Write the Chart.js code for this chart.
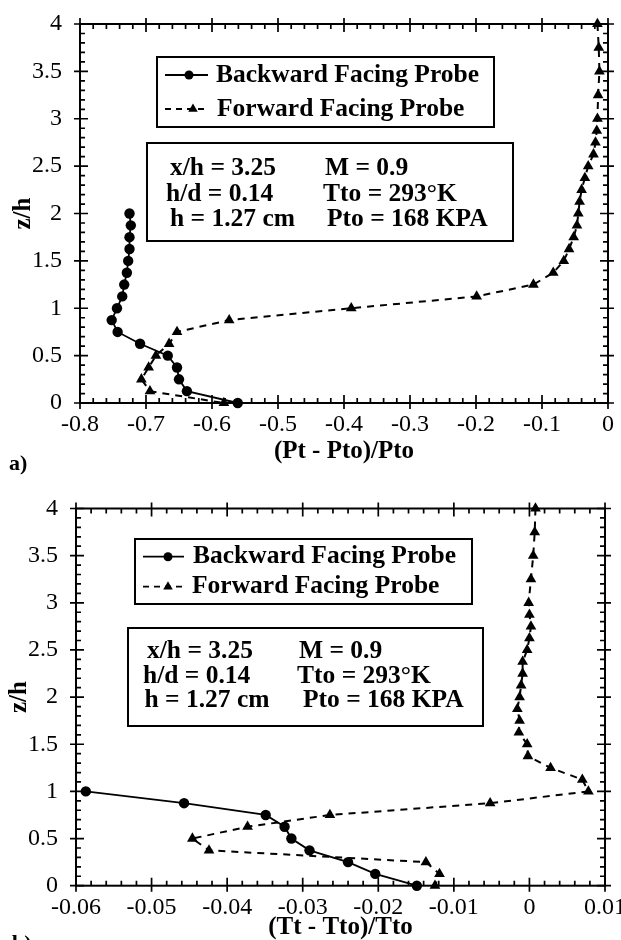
<!DOCTYPE html>
<html><head><meta charset="utf-8">
<script src="https://cdn.jsdelivr.net/npm/chart.js@4"></script>
<style>
html,body{margin:0;padding:0;background:#fff;width:621px;height:940px;overflow:hidden;position:relative}
.wrap{position:absolute;left:0;width:621px}
canvas{display:block}
</style></head><body>
<div class="wrap" style="top:0;height:480px;z-index:2"><canvas id="ca" width="621" height="480"></canvas></div>
<div class="wrap" style="top:470px;height:470px;z-index:1"><canvas id="cb" width="621" height="470"></canvas></div>
<script>
// ---------- data ----------
const seriesNames = ['Backward Facing Probe', 'Forward Facing Probe'];
const noteLeft = ['x/h = 3.25', 'h/d = 0.14', 'h = 1.27 cm'];
const noteRight = ['M = 0.9', 'Tto = 293°K', 'Pto = 168 KPA'];
const panelLabels = ['a)', 'b)'];
const xTitleA = '(Pt - Pto)/Pto';
const xTitleB = '(Tt - Tto)/Tto';
const yTitle = 'z/h';

// panel a) pressure
const zBackA = [2.0, 1.875, 1.75, 1.625, 1.5, 1.375, 1.25, 1.125, 1.0, 0.875, 0.75, 0.625, 0.5, 0.375, 0.25, 0.125, 0];
const pBackA = [-0.725, -0.723, -0.725, -0.725, -0.727, -0.729, -0.733, -0.736, -0.744, -0.752, -0.743, -0.709, -0.667, -0.653, -0.650, -0.638, -0.561];
const zFwdA = [4.0, 3.75, 3.5, 3.25, 3.0, 2.875, 2.75, 2.625, 2.5, 2.375, 2.25, 2.125, 2.0, 1.875, 1.75, 1.625, 1.5, 1.375, 1.25, 1.125, 1.0, 0.875, 0.75, 0.625, 0.5, 0.375, 0.25, 0.125, 0];
const pFwdA = [-0.016, -0.014, -0.013, -0.015, -0.016, -0.017, -0.019, -0.022, -0.030, -0.035, -0.040, -0.043, -0.045, -0.047, -0.052, -0.059, -0.067, -0.083, -0.113, -0.199, -0.389, -0.574, -0.653, -0.665, -0.685, -0.696, -0.707, -0.694, -0.582];

// panel b) temperature
const zBackB = [1.0, 0.875, 0.75, 0.625, 0.5, 0.375, 0.25, 0.125, 0];
const tBackB = [-0.0587, -0.0457, -0.0349, -0.0324, -0.0315, -0.0291, -0.0240, -0.0204, -0.0149];
const zFwdB = [4.0, 3.75, 3.5, 3.25, 3.0, 2.875, 2.75, 2.625, 2.5, 2.375, 2.25, 2.125, 2.0, 1.875, 1.75, 1.625, 1.5, 1.375, 1.25, 1.125, 1.0, 0.875, 0.75, 0.625, 0.5, 0.375, 0.25, 0.125, 0];
const tFwdB = [0.0008, 0.0007, 0.0005, 0.0002, -0.0001, 0.0, 0.0002, 0.0, -0.0003, -0.0009, -0.0009, -0.0011, -0.0013, -0.0016, -0.0013, -0.0014, -0.0003, -0.0002, 0.0028, 0.0070, 0.0078, -0.0052, -0.0264, -0.0373, -0.0446, -0.0424, -0.0137, -0.0119, -0.0125];

// ticks
const xTicksA = [-0.8, -0.7, -0.6, -0.5, -0.4, -0.3, -0.2, -0.1, 0];
const xLabelsA = ['-0.8', '-0.7', '-0.6', '-0.5', '-0.4', '-0.3', '-0.2', '-0.1', '0'];
const xTicksB = [-0.06, -0.05, -0.04, -0.03, -0.02, -0.01, 0, 0.01];
const xLabelsB = ['-0.06', '-0.05', '-0.04', '-0.03', '-0.02', '-0.01', '0', '0.01'];
const yTicks = [0, 0.5, 1, 1.5, 2, 2.5, 3, 3.5, 4];
const yLabels = ['0', '0.5', '1', '1.5', '2', '2.5', '3', '3.5', '4'];

// ---------- helpers ----------
const SERIF = '"Liberation Serif", "Times New Roman", serif';
Chart.defaults.color = '#000';
Chart.defaults.font.family = SERIF;

function pts(xs, zs) { return xs.map((v, i) => ({ x: v, y: zs[i] })); }

function minors(min, max, step, majors) {
  const out = [];
  const n = Math.round((max - min) / step);
  for (let i = 0; i <= n; i++) {
    const v = min + i * step;
    if (!majors.some(m => Math.abs(m - v) < step / 10)) out.push(v);
  }
  return out;
}

function tri(ctx, x, y, r) {
  ctx.beginPath();
  ctx.moveTo(x, y - r);
  ctx.lineTo(x + r * 0.866, y + r * 0.5);
  ctx.lineTo(x - r * 0.866, y + r * 0.5);
  ctx.closePath();
  ctx.fill();
}

const deco = {
  id: 'deco',
  beforeDatasetsDraw(chart, args, o) {
    const { ctx, chartArea: a, scales: { x, y } } = chart;
    ctx.save();
    ctx.strokeStyle = '#000';
    ctx.lineWidth = 2;
    ctx.strokeRect(a.left, a.top, a.right - a.left, a.bottom - a.top);
    ctx.lineWidth = 1.7;
    ctx.beginPath();
    o.xMajor.forEach(v => {
      const p = x.getPixelForValue(v);
      ctx.moveTo(p, a.bottom + 6); ctx.lineTo(p, a.bottom - 8);
      ctx.moveTo(p, a.top - 6); ctx.lineTo(p, a.top + 8);
    });
    minors(x.min, x.max, o.xMinorStep, o.xMajor).forEach(v => {
      const p = x.getPixelForValue(v);
      ctx.moveTo(p, a.bottom); ctx.lineTo(p, a.bottom - 5);
      ctx.moveTo(p, a.top); ctx.lineTo(p, a.top + 5);
    });
    o.yMajor.forEach(v => {
      const p = y.getPixelForValue(v);
      ctx.moveTo(a.left - 6, p); ctx.lineTo(a.left + 8, p);
      ctx.moveTo(a.right + 6, p); ctx.lineTo(a.right - 8, p);
    });
    minors(y.min, y.max, o.yMinorStep, o.yMajor).forEach(v => {
      const p = y.getPixelForValue(v);
      ctx.moveTo(a.left, p); ctx.lineTo(a.left + 5, p);
      ctx.moveTo(a.right, p); ctx.lineTo(a.right - 5, p);
    });
    ctx.stroke();
    ctx.restore();
  },
  afterDraw(chart, args, o) {
    const { ctx } = chart;
    ctx.save();
    ctx.fillStyle = '#000';
    ctx.strokeStyle = '#000';
    // legend box
    const L = o.legend;
    ctx.fillStyle = '#fff';
    ctx.fillRect(L.box[0], L.box[1], L.box[2] - L.box[0], L.box[3] - L.box[1]);
    ctx.fillStyle = '#000';
    ctx.lineWidth = 2;
    ctx.strokeRect(L.box[0], L.box[1], L.box[2] - L.box[0], L.box[3] - L.box[1]);
    ctx.font = 'bold 25.5px ' + SERIF;
    ctx.textBaseline = 'middle';
    ctx.textAlign = 'left';
    L.rows.forEach((r, i) => {
      ctx.lineWidth = 1.8;
      ctx.setLineDash(i === 0 ? [] : [6, 5]);
      ctx.beginPath();
      ctx.moveTo(r.x0, r.y); ctx.lineTo(r.x1, r.y);
      ctx.stroke();
      ctx.setLineDash([]);
      if (i === 0) {
        ctx.beginPath(); ctx.arc(r.m, r.y, 4.5, 0, Math.PI * 2); ctx.fill();
      } else {
        tri(ctx, r.m, r.y, 5.5);
      }
      ctx.fillText(seriesNames[i], r.tx, r.y);
    });
    // note box
    const N = o.note;
    ctx.fillStyle = '#fff';
    ctx.fillRect(N.box[0], N.box[1], N.box[2] - N.box[0], N.box[3] - N.box[1]);
    ctx.fillStyle = '#000';
    ctx.lineWidth = 2;
    ctx.strokeRect(N.box[0], N.box[1], N.box[2] - N.box[0], N.box[3] - N.box[1]);
    noteLeft.forEach((t, i) => ctx.fillText(t, N.lx[i], N.ys[i]));
    noteRight.forEach((t, i) => ctx.fillText(t, N.rx[i], N.ys[i]));
    // panel label
    ctx.font = 'bold 22px ' + SERIF;
    ctx.fillText(o.panel.text, o.panel.x, o.panel.y);
    ctx.restore();
  }
};

function makeChart(id, cfg) {
  return new Chart(document.getElementById(id), {
    type: 'scatter',
    data: {
      datasets: [
        {
          label: seriesNames[0], data: cfg.back, showLine: true,
          borderColor: '#000', backgroundColor: '#000', borderWidth: 1.8,
          pointStyle: 'circle', pointRadius: 5.2, pointBorderWidth: 0,
          tension: 0, clip: false
        },
        {
          label: seriesNames[1], data: cfg.fwd, showLine: true,
          borderColor: '#000', backgroundColor: '#000', borderWidth: 2, borderDash: [7, 6],
          pointStyle: 'triangle', pointRadius: 6.2, pointBorderWidth: 0,
          tension: 0, clip: false
        }
      ]
    },
    options: {
      responsive: false,
      animation: false,
      devicePixelRatio: 1,
      layout: { padding: cfg.pad },
      plugins: {
        legend: { display: false },
        tooltip: { enabled: false },
        deco: cfg.deco
      },
      scales: {
        x: {
          type: 'linear', min: cfg.xTicks[0], max: cfg.xTicks[cfg.xTicks.length - 1],
          grid: { display: false, drawTicks: false },
          border: { display: false },
          afterBuildTicks: s => { s.ticks = cfg.xTicks.map(v => ({ value: v })); },
          afterFit: s => { s.height = cfg.xAxisH; s.paddingLeft = 0; s.paddingRight = 0; },
          ticks: {
            autoSkip: false, maxRotation: 0, padding: cfg.xTickPad,
            font: { family: SERIF, size: 24 }, color: '#000',
            callback: (v, i) => cfg.xLabels[i]
          },
          title: {
            display: true, text: cfg.xTitle, color: '#000', padding: 0,
            font: { family: SERIF, size: 25, weight: 'bold', lineHeight: 1 }
          }
        },
        y: {
          type: 'linear', min: 0, max: 4,
          grid: { display: false, drawTicks: false },
          border: { display: false },
          afterBuildTicks: s => { s.ticks = yTicks.map(v => ({ value: v })); },
          afterFit: s => { s.width = cfg.yAxisW; s.paddingTop = 0; s.paddingBottom = 0; },
          ticks: {
            autoSkip: false, padding: 18,
            font: { family: SERIF, size: 24 }, color: '#000',
            callback: (v, i) => yLabels[i]
          },
          title: {
            display: true, text: yTitle, color: '#000', padding: { top: cfg.yTitlePad, bottom: 0 },
            font: { family: SERIF, size: 25, weight: 'bold', lineHeight: 1 }
          }
        }
      }
    },
    plugins: [deco]
  });
}

makeChart('ca', {
  back: pts(pBackA, zBackA), fwd: pts(pFwdA, zFwdA),
  xTicks: xTicksA, xLabels: xLabelsA, xTitle: xTitleA,
  pad: { top: 24, right: 13, bottom: 15.5, left: 0 },
  xAxisH: 61.5, yAxisW: 80, xTickPad: 7, yTitlePad: 11.5,
  deco: {
    xMajor: xTicksA, yMajor: yTicks, xMinorStep: 0.02, yMinorStep: 0.1,
    legend: { box: [157, 57, 494, 127], rows: [
      { y: 75, x0: 165, x1: 208, m: 189, tx: 216 },
      { y: 109, x0: 165, x1: 208, m: 193, tx: 217 }
    ] },
    note: { box: [147, 143, 513, 241], lx: [170, 166, 170], rx: [325, 323, 327], ys: [168.5, 194, 219] },
    panel: { text: panelLabels[0], x: 9, y: 464 }
  }
});

makeChart('cb', {
  back: pts(tBackB, zBackB), fwd: pts(tFwdB, zFwdB),
  xTicks: xTicksB, xLabels: xLabelsB, xTitle: xTitleB,
  pad: { top: 38.5, right: 16, bottom: 0, left: 0 },
  xAxisH: 54.3, yAxisW: 76, xTickPad: 8, yTitlePad: 7.5,
  deco: {
    xMajor: xTicksB, yMajor: yTicks, xMinorStep: 0.002, yMinorStep: 0.1,
    legend: { box: [135, 69, 472, 134], rows: [
      { y: 86.7, x0: 143, x1: 184, m: 168, tx: 193 },
      { y: 116.7, x0: 143, x1: 184, m: 168, tx: 192 }
    ] },
    note: { box: [128, 158, 483, 256], lx: [147, 143, 144.5], rx: [299, 297, 303], ys: [181.7, 206.7, 230] },
    panel: { text: panelLabels[1], x: 12, y: 474 }
  }
});
</script></body></html>
